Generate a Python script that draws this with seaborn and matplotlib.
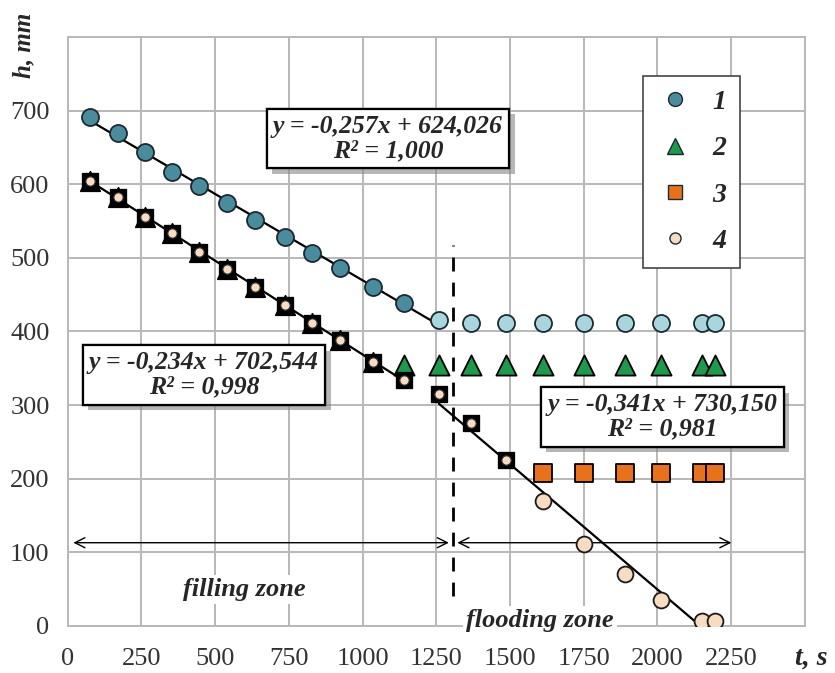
import numpy as np
import pandas as pd
import matplotlib
matplotlib.use("Agg")
import matplotlib.pyplot as plt
import matplotlib.patheffects as pe
from matplotlib.lines import Line2D
import seaborn as sns

# time, s
t = [75, 170, 263, 353, 447, 540, 634, 737, 828, 924, 1035, 1142, 1259,
     1368, 1487, 1612, 1752, 1891, 2013, 2152, 2196]
# level h, mm for the four measuring points
h1 = [692, 669, 644, 617, 597, 575, 551, 528, 507, 486, 461, 439, 415,
      412, 412, 412, 412, 412, 412, 412, 412]
h2 = [604, 583, 556, 534, 508, 485, 461, 436, 412, 389, 359, 355, 355,
      355, 355, 355, 355, 355, 355, 355, 355]
h3 = [604, 583, 556, 534, 508, 485, 461, 436, 412, 389, 359, 334, 315,
      276, 226, 208, 208, 208, 208, 208, 208]
h4 = [604, 583, 556, 534, 508, 485, 461, 436, 412, 389, 359, 334, 315,
      276, 226, 170, 111, 71, 35, 7, 7]
labels = ["1", "2", "3", "4"]
equations = ["y = -0,257x + 624,026\nR² = 1,000",
             "y = -0,234x + 702,544\nR² = 0,998",
             "y = -0,341x + 730,150\nR² = 0,981"]
t_switch = 1307

df = pd.DataFrame({"t": t, "h1": h1, "h2": h2, "h3": h3, "h4": h4})

sns.set_style("whitegrid")
plt.rcParams["font.family"] = ["Liberation Serif", "DejaVu Serif"]

fig = plt.figure(figsize=(8.35, 6.73), dpi=100)
ax = fig.add_axes([0.081, 0.070, 0.883, 0.875])

c1_dark, c1_light = "#4a8c9e", "#a9d6de"
c2, c3, c4 = "#1f9a4c", "#e8711c", "#f7dcc2"

# fit lines
fill1 = df[df.t < t_switch]
fill4 = df[df.t < 1200]
flood4 = df[df.t > 1200]
for d, col in [(fill1, "h1"), (fill4, "h4"), (flood4, "h4")]:
    k, b = np.polyfit(d.t, d[col], 1)
    xs = np.array([d.t.min(), d.t.max()])
    sns.lineplot(x=xs, y=k * xs + b, color="black", lw=1.6, ax=ax, zorder=2)

# series 1
sns.scatterplot(data=df[df.t < 1200], x="t", y="h1", s=150, color=c1_dark,
                edgecolor="#1a2a30", linewidth=1.3, ax=ax, zorder=3)
sns.scatterplot(data=df[df.t > 1200], x="t", y="h1", s=150, color=c1_light,
                edgecolor="#1a2a30", linewidth=1.3, ax=ax, zorder=3)
# series 2
m2 = df.h2 == df.h4
sns.scatterplot(data=df[m2], x="t", y="h2", marker="^", s=200, color="black",
                edgecolor="black", ax=ax, zorder=3)
sns.scatterplot(data=df[~m2], x="t", y="h2", marker="^", s=210, color=c2,
                edgecolor="black", linewidth=1.3, ax=ax, zorder=3)
# series 3
m3 = df.h3 == df.h4
sns.scatterplot(data=df[m3], x="t", y="h3", marker="s", s=140, color="black",
                edgecolor="black", ax=ax, zorder=4)
sns.scatterplot(data=df[~m3], x="t", y="h3", marker="s", s=150, color=c3,
                edgecolor="black", linewidth=1.3, ax=ax, zorder=4)
# series 4
sns.scatterplot(data=df[m3], x="t", y="h4", s=45, color=c4,
                edgecolor="#333333", linewidth=0.8, ax=ax, zorder=5)
sns.scatterplot(data=df[~m3], x="t", y="h4", s=130, color=c4,
                edgecolor="#1a1a1a", linewidth=1.3, ax=ax, zorder=5)

# zone separator and arrows
ax.vlines(t_switch, 40, 517, colors="black", linestyles=(0, (5, 4)), lw=2, zorder=2)
arrow = dict(arrowstyle="<->", lw=1, color="black", mutation_scale=18)
ax.annotate("", xy=(10, 113), xytext=(t_switch - 5, 113), arrowprops=arrow)
ax.annotate("", xy=(t_switch + 5, 113), xytext=(2260, 113), arrowprops=arrow)
zone_font = dict(fontsize=19, fontweight="bold", style="italic", ha="center", va="center")
ax.text(600, 49, "filling zone", bbox=dict(fc="white", ec="none", pad=2), **zone_font)
ax.text(1602, 8, "flooding zone", bbox=dict(fc="white", ec="none", pad=2), **zone_font)

# equation boxes
for (x, y), eq in zip([(1086, 662), (462, 341), (2016, 284)], equations):
    txt = ax.text(x, y, eq, fontsize=18.5, fontweight="bold", style="italic",
                  ha="center", va="center", linespacing=1.05, zorder=6,
                  bbox=dict(boxstyle="square,pad=0.25", fc="white", ec="black", lw=1.6))
    txt.get_bbox_patch().set_path_effects(
        [pe.withSimplePatchShadow(offset=(4, -4), shadow_rgbFace="#888888", alpha=0.6), pe.Normal()])

# legend
handles = [
    Line2D([], [], ls="none", marker="o", ms=10, mfc=c1_dark, mec="#1a2a30"),
    Line2D([], [], ls="none", marker="^", ms=12, mfc=c2, mec="#1a2a30"),
    Line2D([], [], ls="none", marker="s", ms=10, mfc=c3, mec="#1a2a30"),
    Line2D([], [], ls="none", marker="o", ms=8, mfc=c4, mec="#1a2a30"),
]
leg = ax.legend(handles, labels, loc="upper left", bbox_to_anchor=(0.780, 0.934),
                prop=dict(family="Liberation Serif", size=20, weight="bold", style="italic"),
                fancybox=False, edgecolor="#444444", framealpha=1, labelspacing=0.75,
                handlelength=1.3, handletextpad=0.7, borderpad=0.5, borderaxespad=0)
leg.get_frame().set_linewidth(1.2)

ax.set_xlim(0, 2500)
ax.set_ylim(0, 800)
ax.set_xticks(np.arange(0, 2501, 250))
ax.set_xticklabels([str(v) for v in range(0, 2251, 250)] + [""])
ax.set_yticks(np.arange(0, 801, 100))
ax.set_yticklabels([str(v) for v in range(0, 701, 100)] + [""])
ax.grid(True, color="#b8b8b8", lw=1.4)
ax.tick_params(axis="both", labelsize=19, length=8, width=1.4, color="#b8b8b8",
               direction="out", pad=5, labelcolor="#333333")
ax.tick_params(axis="x", pad=8)
for s in ax.spines.values():
    s.set_color("#b8b8b8")
    s.set_linewidth(1.4)
ax.set_xlabel("")
ax.set_ylabel("")

fig.text(0.029, 0.933, "h, mm", rotation=90, fontsize=18, fontweight="bold",
         style="italic", ha="center", va="center")
fig.text(0.972, 0.022, "t, s", fontsize=20, fontweight="bold", style="italic",
         ha="center", va="center")

fig.savefig("out.png", dpi=100)
